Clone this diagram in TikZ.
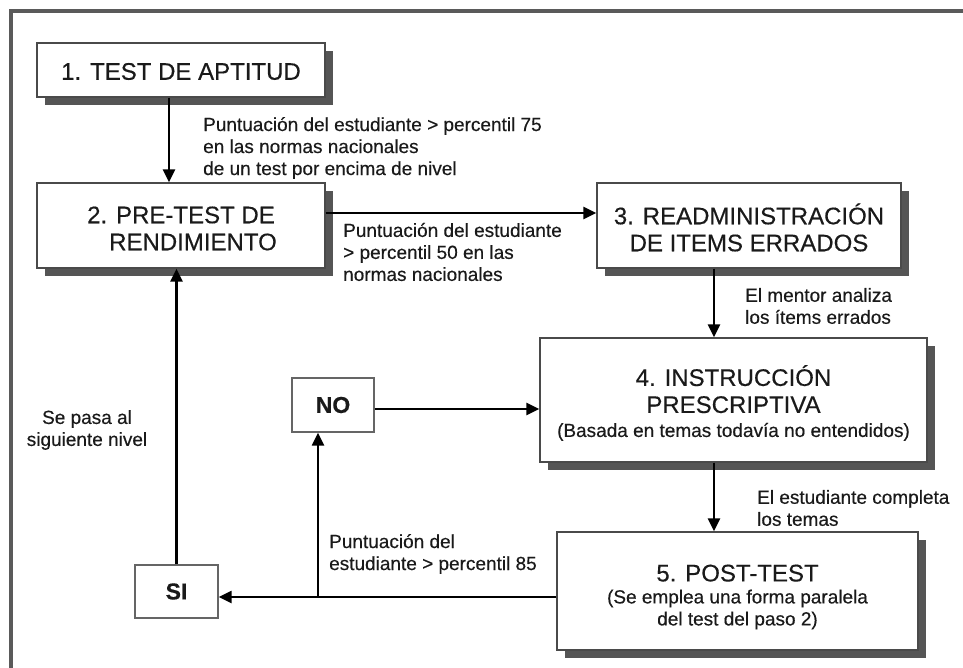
\documentclass[tikz,border=0pt]{standalone}
\usepackage{fontspec}
\setmainfont{Liberation Sans}[FakeBold=0.35]
\newfontfamily\boldish{Liberation Sans}[FakeBold=0.35]
\usetikzlibrary{arrows.meta,shadows}
\definecolor{frameC}{HTML}{5A5A5A}
\definecolor{shadowC}{HTML}{555555}
\definecolor{borderC}{HTML}{4A4A4A}
\definecolor{txtC}{HTML}{1A1A1A}
\tikzset{
  stepbox/.style={draw=borderC, line width=1.3pt, fill=white, inner sep=0pt,
    drop shadow={shadow xshift=8pt, shadow yshift=-8pt, fill=shadowC, opacity=1}},
  smallbox/.style={draw=borderC!85, line width=1.4pt, fill=white, inner sep=0pt,
    font=\fontsize{23}{26}\selectfont\bfseries, text=txtC},
  title/.style={align=center, inner sep=0pt, text=txtC, font=\boldish\fontsize{24}{27}\selectfont},
  lbl/.style={align=left, inner sep=0pt, text=txtC, font=\boldish\fontsize{19}{22}\selectfont},
  arr/.style={line width=2.4pt, -{Triangle[length=13pt,width=12pt]}},
  ln/.style={line width=2.4pt}
}
\begin{document}
\begin{tikzpicture}[x=1pt,y=-1pt]
\useasboundingbox (0,0) rectangle (963,668);
\fill[white] (0,0) rectangle (963,668);
% frame
\draw[frameC, line width=3.5pt] (11,680) -- (11,11) -- (980,11);

% boxes
\node[stepbox, minimum width=288pt, minimum height=54pt] (b1) at (181,70) {};
\node[stepbox, minimum width=288pt, minimum height=85pt] (b2) at (181,225.5) {};
\node[stepbox, minimum width=304pt, minimum height=85pt] (b3) at (749,225.5) {};
\node[stepbox, minimum width=387pt, minimum height=124pt] (b4) at (733.5,400) {};
\node[stepbox, minimum width=361pt, minimum height=118pt] (b5) at (737.5,591) {};
\node[smallbox, minimum width=83pt, minimum height=53pt] (si) at (176.5,591.5) {SI};
\node[smallbox, minimum width=82pt, minimum height=54pt] (no) at (333,405) {NO};

% box texts
\node[title] (t1) at (b1.center) [yshift=-1.5pt] {1. TEST DE APTITUD};
\node[title] (t2) at (b2.center) [yshift=-3pt] {2. PRE-TEST DE\\ \quad RENDIMIENTO};
\node[title] (t3) at (b3.center) [yshift=-2pt] {3. READMINISTRACIÓN\\ DE ITEMS ERRADOS};
\node[title] (t4) at (b4.center) [yshift=-3pt] {4. INSTRUCCIÓN\\ PRESCRIPTIVA\\[-3pt] {\fontsize{19}{22}\selectfont (Basada en temas todavía no entendidos)}};
\node[title] (t5) at (b5.center) [yshift=-6pt] {5. POST-TEST\\[-5pt] {\fontsize{19}{22}\selectfont (Se emplea una forma paralela}\\[-5pt] {\fontsize{19}{22}\selectfont del test del paso 2)}};

% connector helper coordinates
\coordinate (c12) at (169,0);
\coordinate (c23) at (0,213);
\coordinate (c34) at (714,0);
\coordinate (c5s) at (0,597);
\coordinate (cbr) at (318,0);
\coordinate (cno) at (0,409);

% connectors
\draw[arr] (b1.south -| c12) -- (b2.north -| c12);
\draw[arr] (b2.east |- c23) -- (b3.west |- c23);
\draw[arr] (b3.south -| c34) -- (b4.north -| c34);
\draw[arr] (b4.south -| c34) -- (b5.north -| c34);
\draw[arr] (b5.west |- c5s) -- (si.east |- c5s);
\draw[arr] (cbr |- c5s) -- (no.south -| cbr);
\draw[arr] (no.east |- cno) -- (b4.west |- cno);
\draw[arr] (si.north) -- (si.north |- b2.south);

% labels
\node[lbl, anchor=west] (l1) at (203,148) {Puntuación del estudiante > percentil 75\\ en las normas nacionales\\ de un test por encima de nivel};
\node[lbl, anchor=west] (l2) at (343,252) {Puntuación del estudiante\\ > percentil 50 en las\\ normas nacionales};
\node[lbl, anchor=west] (l3) at (745,306) {El mentor analiza\\ los ítems errados};
\node[lbl, anchor=west] (l4) at (757,508) {El estudiante completa\\ los temas};
\node[lbl, align=center] (l5) at (87,430) {Se pasa al\\ siguiente nivel};
\node[lbl, anchor=west] (l6) at (329,554) {Puntuación del\\ estudiante > percentil 85};
\end{tikzpicture}
\end{document}
